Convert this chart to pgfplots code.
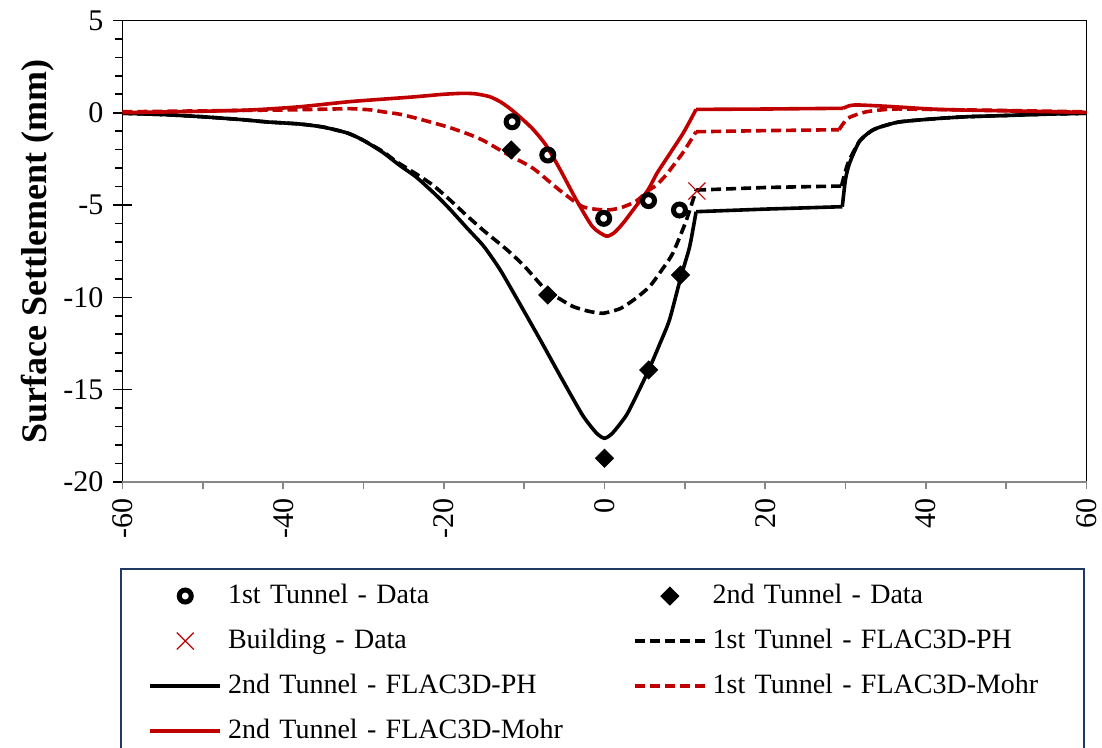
\documentclass[border=0pt]{standalone}
\usepackage{fontspec}
\setmainfont{Liberation Serif}
\usepackage{pgfplots}
\pgfplotsset{compat=1.18}
\definecolor{mred}{RGB}{192,0,0}
\definecolor{axgray}{RGB}{134,134,134}
\definecolor{lgblue}{RGB}{31,56,100}
\pgfplotsset{
  mylegend/.style={legend image code/.code={\draw[mark repeat=2,mark phase=2,##1] plot coordinates {(0pt,0pt)(17.5pt,0pt)(35pt,0pt)};}},
}
\begin{document}
\begin{tikzpicture}
\useasboundingbox (0,0) rectangle (551pt,374pt);
\begin{axis}[
  at={(61.25pt,133pt)}, anchor=south west,
  scale only axis, width=482pt, height=230.8pt,
  xmin=-60, xmax=60, ymin=-20, ymax=5,
  clip=false,
  axis line style={black, line width=0.8pt},
  xtick={-60,-40,...,60},
  minor xtick={-60,-50,...,60},
  ytick={-20,-15,...,5},
  minor ytick={-19,-18,...,4},
  xtick pos=bottom, ytick pos=left,
  tick align=center,
  major tick length=9pt, minor tick length=3.5pt,
  major x tick style={draw=none},
  minor x tick style={axgray, line width=0.8pt, yshift=-1.75pt},
  major y tick style={black, line width=0.8pt},
  minor y tick style={black, line width=0.8pt, xshift=-1.75pt},
  /pgf/number format/assume math mode=true,
  ticklabel style={font=\fontsize{15}{15}\selectfont},
  xticklabel style={rotate=90, anchor=east},
  yticklabel style={anchor=east, xshift=-1.5pt},
  ylabel={Surface Settlement (mm)},
  ylabel style={font=\fontsize{18}{18}\selectfont\bfseries, at={(axis description cs:-0.088,0.5)}, anchor=center},
  legend columns=2,
  legend cell align=left,
  legend style={draw=none, fill=none, at={(axis description cs:0.0265,-0.218)}, anchor=north west,
    inner sep=0pt, row sep=9.5pt, column sep=0pt,
    nodes={inner xsep=3pt, inner ysep=0pt, text width=199.5pt, text height=10pt, text depth=3pt, font=\fontsize{14}{14}\selectfont}},
]
% 1st Tunnel - Data
\addplot[only marks, mark=o, mark size=3pt, mark options={line width=2.5pt, black, fill=white}, mylegend] coordinates {
(-11.5,-0.49) (-7.06,-2.29) (-0.1,-5.72) (5.48,-4.76) (9.33,-5.27)
};
\addlegendentry{1st Tunnel - Data}
% 2nd Tunnel - Data
\addplot[only marks, mark=square*, mark size=3.2pt, mark options={rotate=45, black, fill=black}, mylegend] coordinates {
(-11.6,-2.02) (-7.06,-9.87) (0,-18.71) (5.5,-13.93) (9.46,-8.79)
};
\addlegendentry{2nd Tunnel - Data}
% Building - Data
\addplot[only marks, mark=x, mark size=6pt, mark options={mred, line width=0.6pt}, mylegend] coordinates {
(11.5,-4.24)
};
\addlegendentry{Building - Data}
% 1st Tunnel - FLAC3D-PH
\addplot[black, line width=1.8pt, dash pattern=on 5pt off 2.5pt, smooth, tension=0.4, mylegend] coordinates {
(-60,-0.03)(-55,-0.1)(-50,-0.22)(-45,-0.38)(-42,-0.5)(-38,-0.61)(-35,-0.78)(-32,-1.1)(-30,-1.5)(-27.6,-2.1)(-25.9,-2.65)(-23.5,-3.3)(-21.4,-3.91)(-19.3,-4.7)(-17.2,-5.55)(-15,-6.4)(-12.2,-7.4)(-10,-8.3)(-7.3,-9.6)(-5.5,-10.1)(-3.9,-10.5)(-2,-10.75)(-0.2,-10.86)(2,-10.6)(3.9,-10.05)(5.6,-9.42)(7,-8.6)(8.5,-7.61)(10.2,-5.81)(11.4,-4.19)
};
\addlegendentry{1st Tunnel - FLAC3D-PH}
% 2nd Tunnel - FLAC3D-PH
\addplot[black, line width=1.8pt, smooth, tension=0.4, mylegend] coordinates {
(-60,-0.03)(-55,-0.1)(-50,-0.22)(-45,-0.38)(-42,-0.5)(-38,-0.61)(-35,-0.78)(-32,-1.1)(-30,-1.5)(-27.6,-2.15)(-25.5,-2.85)(-23.4,-3.5)(-21,-4.45)(-19.3,-5.2)(-17,-6.3)(-15,-7.25)(-13,-8.5)(-11,-10.0)(-8,-12.3)(-5.2,-14.5)(-2.7,-16.4)(-1,-17.35)(0,-17.63)(1,-17.35)(2.7,-16.4)(4,-15.3)(5.5,-13.93)(7,-12.4)(8.1,-11.2)(9.5,-8.9)(10.6,-7.25)(11.4,-5.36)
};
\addlegendentry{2nd Tunnel - FLAC3D-PH}
% 1st Tunnel - FLAC3D-Mohr
\addplot[mred, line width=1.8pt, dash pattern=on 5pt off 2.5pt, smooth, tension=0.4, mylegend] coordinates {
(-60,0.05)(-50,0.1)(-40,0.15)(-33.8,0.2)(-31.7,0.22)(-29,0.15)(-27.6,0.05)(-25.5,-0.08)(-23.4,-0.3)(-21.3,-0.55)(-19.3,-0.8)(-17,-1.15)(-15.1,-1.5)(-12.1,-2.25)(-8.9,-3.01)(-5.6,-4.19)(-2.7,-5.09)(0.2,-5.27)(2,-5.15)(3.9,-4.8)(5.5,-4.2)(6.4,-3.95)(7.7,-3.35)(9.7,-2.2)(11.4,-1.03)
};
\addlegendentry{1st Tunnel - FLAC3D-Mohr}
% 2nd Tunnel - FLAC3D-Mohr
\addplot[mred, line width=1.8pt, smooth, tension=0.4, mylegend] coordinates {
(-60,0.0)(-50,0.08)(-44,0.15)(-38,0.32)(-31.7,0.6)(-25.5,0.8)(-23.4,0.87)(-20,1.0)(-17.6,1.05)(-16,1.02)(-14.3,0.87)(-13,0.6)(-12,0.3)(-11,-0.05)(-9,-0.85)(-7.3,-1.75)(-5.5,-3.1)(-3.5,-4.73)(-1.5,-6.17)(0.2,-6.68)(1.2,-6.5)(2.3,-5.99)(3.5,-5.3)(5.4,-4.19)(6.5,-3.3)(7.7,-2.5)(9.8,-1.1)(11.4,0.18)
};
\addlegendentry{2nd Tunnel - FLAC3D-Mohr}
% continuation segments (flat part and recovery)
\addplot[black, line width=1.8pt, dash pattern=on 5pt off 2.5pt, forget plot] coordinates {
(11.4,-4.19)(20,-4.05)(29.5,-3.97)
};
\addplot[black, line width=1.8pt, dash pattern=on 5pt off 2.5pt, smooth, tension=0.4, forget plot] coordinates {
(29.5,-3.97)(30.3,-2.74)(31.7,-1.57)(33,-1.05)(34,-0.82)(36.7,-0.5)(41.3,-0.32)(45,-0.22)(50,-0.15)(55,-0.08)(60,-0.03)
};
\addplot[black, line width=1.8pt, forget plot] coordinates {
(11.4,-5.36)(20,-5.22)(29.6,-5.09)
};
\addplot[black, line width=1.8pt, smooth, tension=0.4, forget plot] coordinates {
(29.6,-5.09)(30,-3.6)(30.5,-2.74)(31.7,-1.57)(33,-1.05)(34,-0.82)(36.7,-0.5)(41.3,-0.32)(45,-0.22)(50,-0.15)(55,-0.08)(60,-0.03)
};
\addplot[mred, line width=1.8pt, dash pattern=on 5pt off 2.5pt, forget plot] coordinates {
(11.4,-1.03)(20,-0.97)(29.2,-0.92)
};
\addplot[mred, line width=1.8pt, dash pattern=on 5pt off 2.5pt, smooth, tension=0.4, forget plot] coordinates {
(29.2,-0.92)(30.3,-0.3)(32.6,0.05)(35.9,0.2)(40,0.18)(50,0.12)(60,0.05)
};
\addplot[mred, line width=1.8pt, forget plot] coordinates {
(11.4,0.18)(20,0.2)(29.7,0.24)
};
\addplot[mred, line width=1.8pt, smooth, tension=0.4, forget plot] coordinates {
(29.7,0.24)(30.5,0.38)(31.5,0.42)(35,0.35)(41.7,0.18)(50,0.1)(60,0.02)
};
% bottom axis line in gray
\draw[axgray, line width=0.8pt] (rel axis cs:0,0) -- (rel axis cs:1,0);
% legend frame
\draw[lgblue, line width=0.8pt] (axis description cs:-0.0016,-0.1885) rectangle (axis description cs:0.9974,-0.9);
\end{axis}
\end{tikzpicture}
\end{document}
